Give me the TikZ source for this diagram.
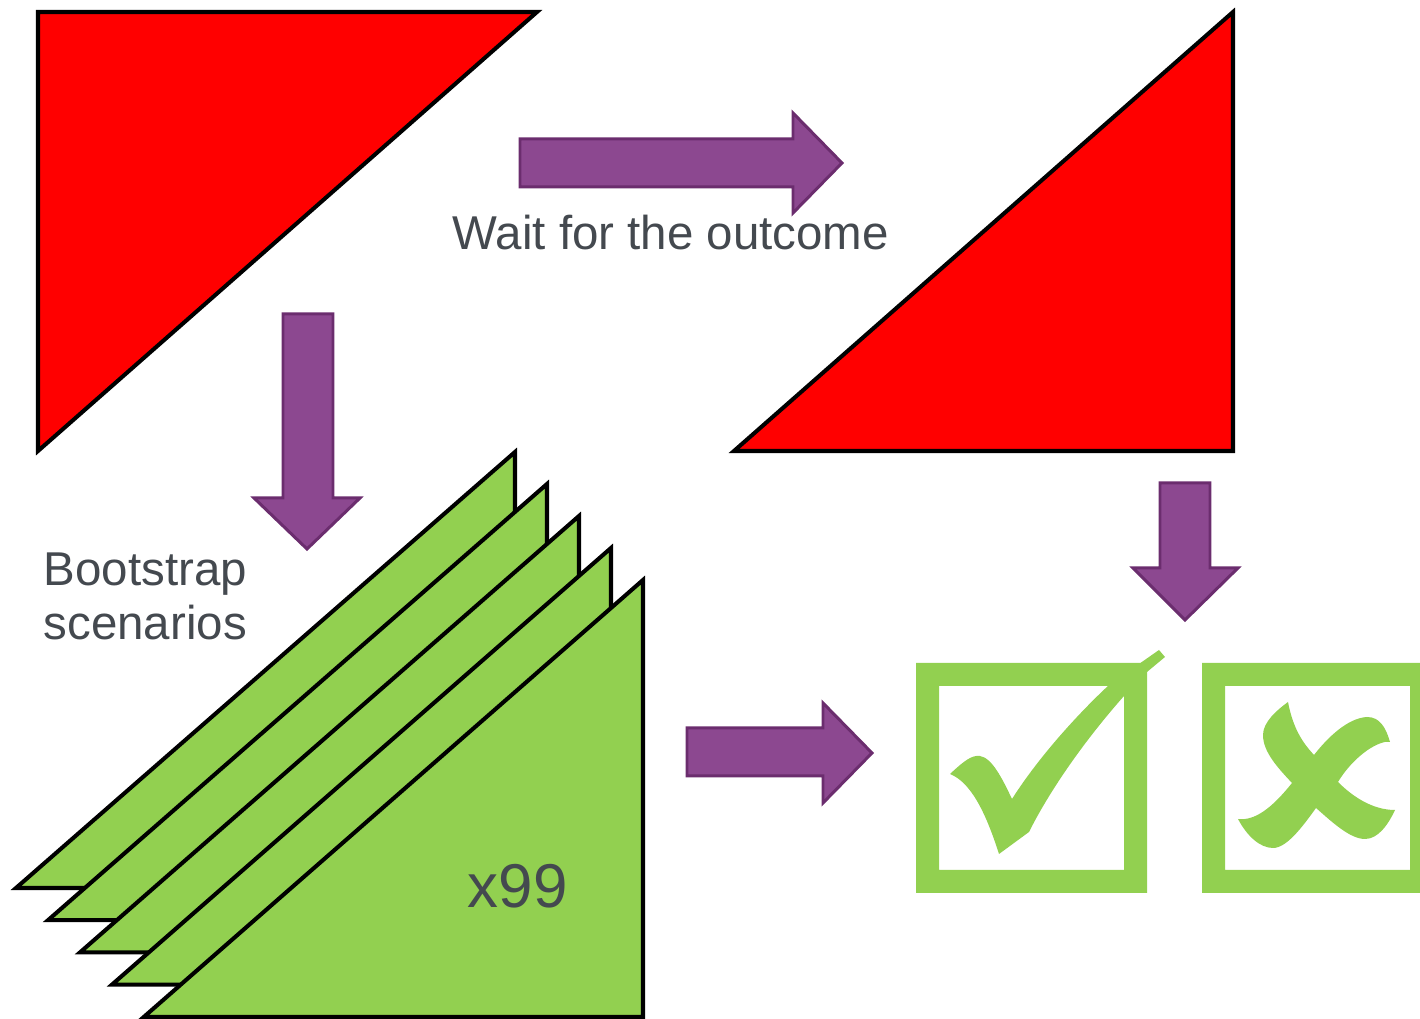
\documentclass[tikz,border=0pt]{standalone}
\usepackage{fontspec}
\setmainfont{Liberation Sans}
\definecolor{tri}{HTML}{FF0000}
\definecolor{leaf}{HTML}{92D050}
\definecolor{plum}{HTML}{8C4890}
\definecolor{plumedge}{HTML}{6B2D6E}
\definecolor{ink}{HTML}{44494F}
\begin{document}
\begin{tikzpicture}[x=0.01cm,y=-0.01cm,
  redtri/.style={fill=tri,draw=black,line width=1.15pt,line join=miter},
  greentri/.style={fill=leaf,draw=black,line width=1.15pt,line join=miter},
  blockarrow/.style={fill=plum,draw=plumedge,line width=0.85pt,line join=miter},
  label/.style={text=ink,font=\fontsize{13.5}{15.6}\selectfont,inner sep=0pt},
  tick/.style={fill=leaf,draw=none}]
\useasboundingbox (0,0) rectangle (1420,1019);

% forecast and realised triangles
\draw[redtri] (38,12) -- (537,12) -- (38,451) -- cycle;
\draw[redtri] (1233,12) -- (1233,451) -- (734,451) -- cycle;

% stack of bootstrap triangles, back to front
\foreach \k in {0,...,4}{
  \draw[greentri] ({16+32*\k},{888+32.2*\k}) -- ({515+32*\k},{452+32*\k}) -- ({515+32*\k},{888+32.2*\k}) -- cycle;
}

% block arrows
\draw[blockarrow] (520,139) -- (793,139) -- (793,113) -- (842,163) -- (793,213) -- (793,187) -- (520,187) -- cycle;
\draw[blockarrow] (283,314) -- (333,314) -- (333,498) -- (360,498) -- (307,549) -- (254,498) -- (283,498) -- cycle;
\draw[blockarrow] (1160,483) -- (1210,483) -- (1210,568) -- (1238,568) -- (1185,620) -- (1133,568) -- (1160,568) -- cycle;
\draw[blockarrow] (687,728) -- (823,728) -- (823,703) -- (872,753) -- (823,803) -- (823,776) -- (687,776) -- cycle;

% labels
\node[label,anchor=base west] (wait) at (452,250) {Wait for the outcome};
\node[label,anchor=base west,align=left] (boot) at (43,640) {Bootstrap\\scenarios};
\node[text=ink,font=\fontsize{17.6}{20}\selectfont,inner sep=0pt,anchor=base west] (count) at (467,908) {x99};

% check box
\fill[leaf,even odd rule] (916,663) rectangle (1147,893) (939,686) rectangle (1124,870);
\fill[tick] (950,774) .. controls (965,760) and (972,755) .. (980,756)
  .. controls (992,758) and (1002,778) .. (1012,799)
  .. controls (1040,755) and (1080,712) .. (1109,685)
  -- (1159,650) -- (1165,657) -- (1147,672) -- (1124,696)
  .. controls (1085,740) and (1050,790) .. (1029,832)
  -- (999,854) .. controls (985,810) and (970,782) .. (950,774) -- cycle;

% cross box
\fill[leaf,even odd rule] (1202,663) rectangle (1420,893) (1225,686) rectangle (1410,870);
\fill[tick] (1288,702) .. controls (1293,728) and (1302,742) .. (1314,755)
  .. controls (1328,737) and (1348,718) .. (1367,717)
  .. controls (1380,717) and (1386,728) .. (1390,742)
  -- (1385,742) .. controls (1370,745) and (1350,762) .. (1338,782)
  .. controls (1352,796) and (1372,810) .. (1395,810)
  .. controls (1388,825) and (1378,839) .. (1365,839)
  .. controls (1350,839) and (1332,822) .. (1316,808)
  .. controls (1303,826) and (1287,848) .. (1273,848)
  .. controls (1260,848) and (1247,836) .. (1238,819)
  .. controls (1255,821) and (1272,808) .. (1292,783)
  .. controls (1278,768) and (1263,752) .. (1263,735)
  .. controls (1263,722) and (1277,710) .. (1288,702) -- cycle;
\end{tikzpicture}
\end{document}
